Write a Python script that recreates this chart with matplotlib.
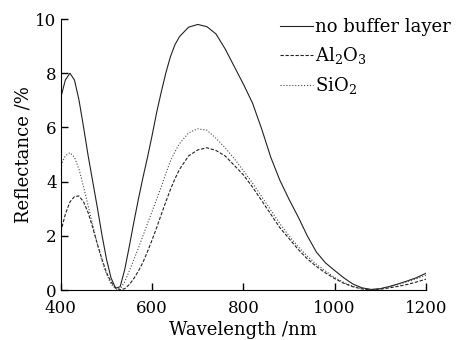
import numpy as np
import matplotlib
matplotlib.use('Agg')
import matplotlib.pyplot as plt

# wavelength (nm) and reflectance (%)
wavelength = [400, 410, 420, 430, 440, 450, 460, 470, 480, 490, 500, 510, 520, 530, 540, 550, 560,
              570, 580, 590, 600, 610, 620, 630, 640, 650, 660, 680, 700, 720, 740, 760, 780, 800,
              820, 840, 860, 880, 900, 920, 940, 960, 980, 1000, 1020, 1040, 1060, 1080, 1100,
              1120, 1140, 1160, 1180, 1200]

no_buffer = [7.1, 7.75, 8.0, 7.75, 7.0, 6.0, 4.95, 4.0, 3.05, 2.05, 1.15, 0.45, 0.07, 0.12, 0.75,
             1.6, 2.5, 3.35, 4.15, 4.9, 5.7, 6.55, 7.3, 8.0, 8.6, 9.05, 9.35, 9.7, 9.8, 9.72, 9.45,
             8.9, 8.25, 7.6, 6.9, 5.95, 4.9, 4.05, 3.35, 2.7, 2.0, 1.4, 1.0, 0.72, 0.45, 0.22, 0.08,
             0.02, 0.05, 0.13, 0.23, 0.34, 0.46, 0.62]

al2o3 = [2.15, 2.8, 3.25, 3.45, 3.47, 3.25, 2.85, 2.3, 1.7, 1.15, 0.65, 0.3, 0.08, 0.01, 0.05,
         0.2, 0.42, 0.7, 1.02, 1.42, 1.85, 2.3, 2.78, 3.25, 3.7, 4.1, 4.45, 4.95, 5.17, 5.25, 5.15,
         4.95, 4.6, 4.25, 3.8, 3.3, 2.8, 2.3, 1.9, 1.5, 1.15, 0.87, 0.63, 0.42, 0.25, 0.12, 0.04,
         0.01, 0.03, 0.08, 0.14, 0.21, 0.3, 0.4]

sio2 = [4.6, 4.95, 5.07, 4.9, 4.45, 3.8, 3.1, 2.4, 1.7, 1.1, 0.6, 0.22, 0.04, 0.03, 0.3,
        0.7, 1.12, 1.55, 2.0, 2.45, 2.9, 3.35, 3.8, 4.3, 4.75, 5.1, 5.4, 5.8, 5.95, 5.9, 5.6,
        5.25, 4.85, 4.4, 3.95, 3.45, 2.95, 2.45, 2.0, 1.6, 1.25, 0.95, 0.7, 0.46, 0.28, 0.14,
        0.05, 0.02, 0.05, 0.12, 0.21, 0.31, 0.42, 0.55]

xticks = [400, 600, 800, 1000, 1200]
yticks = [0, 2, 4, 6, 8, 10]

plt.rcParams['font.family'] = 'DejaVu Serif'
plt.rcParams['mathtext.fontset'] = 'dejavuserif'

fig = plt.figure(figsize=(4.64, 3.4), dpi=100)
ax = fig.add_axes([0.131, 0.147, 0.787, 0.797])

ax.plot(wavelength, no_buffer, '-', color='#222222', lw=0.8, label='no buffer layer')
ax.plot(wavelength, al2o3, '--', color='#222222', lw=0.8, dashes=(3, 1.5), label=r'Al$_2$O$_3$')
ax.plot(wavelength, sio2, ':', color='#444444', lw=0.8, label=r'SiO$_2$')

ax.set_xlim(400, 1200)
ax.set_ylim(0, 10)
ax.set_xticks(xticks)
ax.set_yticks(yticks)
ax.spines['top'].set_visible(False)
ax.spines['right'].set_visible(False)
ax.tick_params(direction='in', length=5, width=1, labelsize=12)
ax.tick_params(axis='x', pad=7)
ax.tick_params(axis='y', pad=3)
ax.set_xlabel('Wavelength /nm', fontsize=13, labelpad=3)
ax.set_ylabel('Reflectance /%', fontsize=13, labelpad=2)

ax.legend(loc='upper right', frameon=False, fontsize=13, handlelength=1.8, handletextpad=0.1,
          labelspacing=0.5, borderaxespad=0.0, bbox_to_anchor=(1.087, 1.03))

fig.savefig('out.png', dpi=100)
